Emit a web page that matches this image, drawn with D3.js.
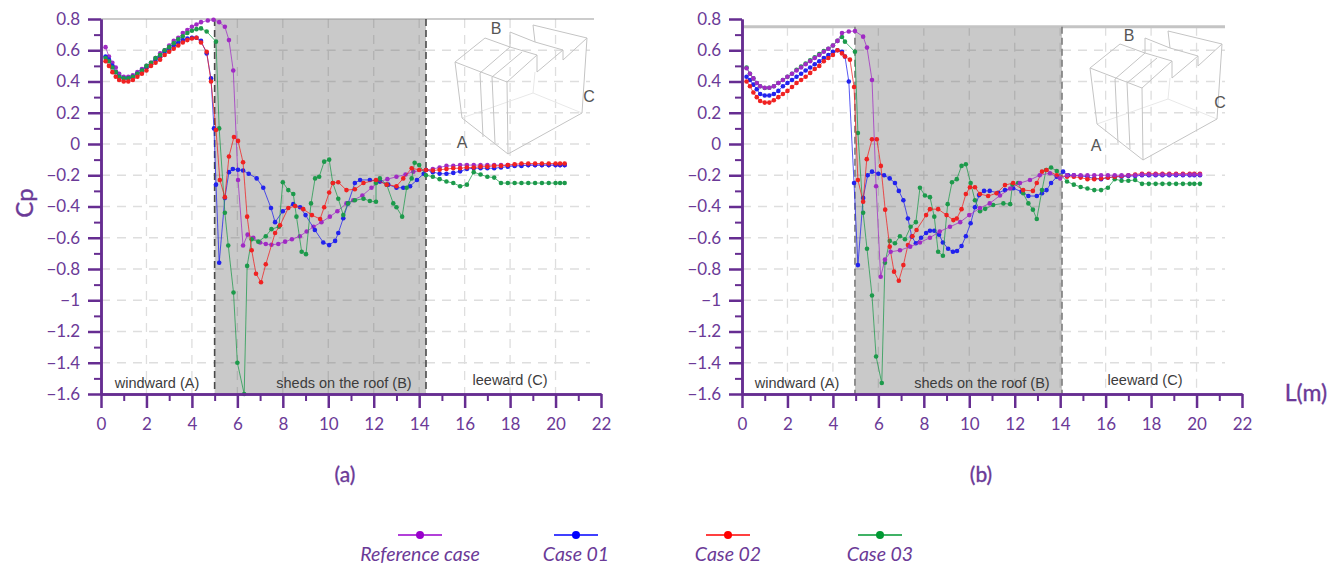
<!DOCTYPE html>
<html lang="en">
<head>
    <meta charset="UTF-8">
    <title>Cp along the section</title>
    <style>
        html, body { margin: 0; padding: 0; background: #fff; }
        svg { display: block; }
        .purple-text { fill: #6b3a97; font-family: Lato, sans-serif; }
        .heavy { stroke: #6b3a97; stroke-width: 0.35px; }
        .axis text { fill: #6b3a97; font: 17px Lato, sans-serif; }
        .axis path, .axis line { stroke: #662d91; stroke-width: 2.5px; }
        .axis.minor line { stroke-width: 2px; }
        .grid-w { stroke: #dedede; stroke-width: 1.3px; stroke-dasharray: 9 7; }
        .grid-g { stroke: #b2b2b2; stroke-width: 1.3px; stroke-dasharray: 9 7; }
        .zone { fill: #3c3c3c; font: 14.5px "Liberation Sans", sans-serif; }
        .box { fill: none; stroke: #c4c4c4; stroke-width: 1px; }
        .box.faint { stroke: #e8e8e8; }
        .abc { fill: #555; font: 16px "Liberation Sans", sans-serif; }
    </style>
</head>
<body>
    <div id="chart"></div>
    <script src="https://d3js.org/d3.v7.min.js"></script>
    <script>
        // tick labels
        const xTicks = [0, 2, 4, 6, 8, 10, 12, 14, 16, 18, 20, 22];
        const xMinor = [1, 3, 5, 7, 9, 11, 13, 15, 17, 19, 21];
        const yTicks = [0.8, 0.6, 0.4, 0.2, 0, -0.2, -0.4, -0.6, -0.8, -1, -1.2, -1.4, -1.6];
        const yMinor = [0.7, 0.5, 0.3, 0.1, -0.1, -0.3, -0.5, -0.7, -0.9, -1.1, -1.3, -1.5];
        const seriesNames = ["Reference case", "Case 01", "Case 02", "Case 03"];

        // windward side, shared L positions
        const lWind = [0.2, 0.35, 0.5, 0.65, 0.8, 1, 1.2, 1.4, 1.6, 1.8, 2, 2.2, 2.4, 2.6, 2.8, 3, 3.2, 3.4, 3.6, 3.8, 4, 4.2, 4.4];
        const refWindA = [.62, .56, .52, .49, .45, .43, .43, .44, .46, .48, .50, .52, .55, .58, .60, .63, .66, .68, .71, .73, .75, .765, .78];
        const c1WindA = [.56, .54, .50, .46, .43, .42, .42, .43, .45, .47, .49, .51, .54, .56, .59, .61, .63, .65, .665, .675, .68, .68, .66];
        const c2WindA = [.53, .50, .46, .43, .41, .40, .40, .41, .43, .45, .47, .50, .52, .54, .57, .59, .61, .63, .65, .665, .675, .68, .65];
        const c3WindA = [.55, .53, .49, .46, .43, .42, .42, .43, .45, .47, .50, .52, .55, .57, .60, .62, .645, .67, .69, .71, .725, .735, .74];
        const refWindB = [.485, .45, .42, .39, .37, .36, .36, .37, .39, .41, .43, .45, .47, .49, .51, .53, .55, .57, .59, .61, .63, .66, .71];
        const c1WindB = [.43, .41, .38, .35, .32, .31, .31, .32, .34, .37, .39, .41, .43, .45, .47, .49, .51, .53, .55, .57, .59, .60, .59];
        const c2WindB = [.40, .37, .33, .30, .275, .265, .265, .28, .30, .32, .34, .365, .39, .41, .43, .455, .48, .50, .53, .55, .57, .60, .58];
        const c3WindB = [.49, .45, .42, .39, .37, .358, .36, .37, .39, .41, .43, .45, .475, .495, .515, .535, .555, .575, .595, .61, .63, .66, .685];

        // roof, (a)
        const refRoofA = [[4.7,.79],[4.95,.795],[5.2,.78],[5.45,.75],[5.63,.665],[5.82,.47],[6.03,-.23],[6.25,-.65],[6.45,-.58],[6.7,-.6],[7,-.63],[7.25,-.64],[7.5,-.645],[7.8,-.64],[8.1,-.625],[8.4,-.61],[8.75,-.59],[9.05,-.56],[9.35,-.53],[9.7,-.5],[10.07,-.465],[10.4,-.43],[10.8,-.38],[11.1,-.36],[11.5,-.33],[11.9,-.28],[12.27,-.24],[12.6,-.225],[13,-.21],[13.4,-.195],[13.74,-.177],[14.3,-.166]];
        const c1RoofA = [[4.65,.58],[4.84,.42],[4.97,.1],[5.06,-.26],[5.2,-.76],[5.45,-.345],[5.63,-.18],[5.8,-.16],[6.03,-.165],[6.25,-.17],[6.5,-.19],[6.85,-.22],[7.14,-.28],[7.48,-.41],[7.66,-.5],[8,-.43],[8.46,-.385],[8.76,-.405],[9,-.455],[9.41,-.55],[9.78,-.63],[10.04,-.647],[10.3,-.62],[10.44,-.57],[10.66,-.475],[10.87,-.38],[11.17,-.25],[11.4,-.23],[11.83,-.23],[12.27,-.24],[12.64,-.26],[13,-.28],[13.3,-.28],[13.6,-.27],[13.9,-.23],[14.2,-.19],[14.3,-.166]];
        const c2RoofA = [[4.65,.59],[4.84,.40],[5.06,.09],[5.23,-.23],[5.45,-.34],[5.63,-.08],[5.85,.045],[6.03,.02],[6.25,-.117],[6.43,-.465],[6.63,-.68],[6.82,-.83],[7.04,-.885],[7.25,-.77],[7.66,-.57],[7.88,-.52],[8.24,-.41],[8.54,-.397],[8.9,-.417],[9.28,-.455],[9.64,-.48],[9.82,-.405],[10.04,-.31],[10.2,-.25],[10.44,-.245],[10.8,-.295],[11.17,-.29],[11.55,-.25],[12.1,-.23],[12.57,-.26],[13,-.27],[13.3,-.22],[13.67,-.155],[14,-.166],[14.3,-.166]];
        const c3RoofA = [[4.65,.72],[5.06,.655],[5.2,.10],[5.45,-.44],[5.6,-.65],[5.83,-.95],[6,-1.4],[6.3,-1.6],[6.43,-.78],[6.63,-.61],[6.92,-.625],[7.25,-.59],[7.5,-.545],[7.83,-.53],[8,-.245],[8.24,-.295],[8.46,-.32],[8.6,-.465],[8.83,-.69],[9.02,-.705],[9.24,-.38],[9.42,-.22],[9.6,-.21],[9.82,-.113],[10.04,-.10],[10.2,-.25],[10.44,-.35],[10.66,-.455],[10.87,-.38],[11.17,-.36],[11.55,-.35],[11.83,-.365],[12.1,-.37],[12.1,-.25],[12.27,-.22],[12.57,-.26],[12.86,-.38],[13,-.405],[13.25,-.465],[13.45,-.28],[13.67,-.22],[13.8,-.12],[14,-.135],[14.3,-.2]];

        // roof, (b)
        const refRoofB = [[4.7,.72],[4.97,.723],[5.33,.687],[5.5,.617],[5.72,.41],[5.9,-.27],[6.1,-.85],[6.29,-.74],[6.54,-.69],[6.95,-.68],[7.4,-.657],[7.83,-.63],[8.27,-.6],[8.7,-.56],[9.15,-.53],[9.6,-.5],[10,-.455],[10.47,-.41],[10.9,-.38],[11.35,-.33],[11.8,-.285],[12.23,-.25],[12.67,-.23],[13.1,-.2],[13.55,-.187],[14,-.22],[14.3,-.2]];
        const c1RoofB = [[4.53,.56],[4.7,.40],[4.93,-.25],[5.1,-.775],[5.33,-.345],[5.53,-.2],[5.72,-.177],[6,-.19],[6.25,-.2],[6.5,-.22],[6.73,-.25],[6.9,-.3],[7.1,-.36],[7.3,-.477],[7.47,-.593],[7.65,-.635],[7.88,-.6],[8.1,-.57],[8.27,-.555],[8.46,-.555],[8.67,-.58],[8.84,-.63],[9.07,-.67],[9.28,-.69],[9.46,-.685],[9.66,-.653],[9.85,-.59],[10.06,-.507],[10.25,-.405],[10.43,-.327],[10.65,-.3],[10.9,-.3],[11.27,-.313],[11.57,-.295],[11.93,-.283],[12.3,-.305],[12.6,-.333],[12.97,-.333],[13.2,-.315],[13.4,-.295],[13.6,-.25],[13.85,-.21],[14.13,-.177],[14.35,-.2]];
        const c2RoofB = [[4.53,.56],[4.75,.54],[4.93,.365],[5.1,-.23],[5.33,-.37],[5.49,-.097],[5.72,.03],[5.93,.03],[6.11,-.14],[6.3,-.42],[6.5,-.657],[6.69,-.817],[6.9,-.875],[7.1,-.775],[7.3,-.647],[7.5,-.59],[7.68,-.55],[8.1,-.455],[8.27,-.417],[8.63,-.417],[9,-.455],[9.3,-.487],[9.45,-.477],[9.66,-.417],[9.85,-.32],[10.03,-.277],[10.25,-.277],[10.47,-.32],[10.83,-.333],[11.2,-.315],[11.57,-.263],[11.93,-.25],[12.37,-.295],[12.8,-.3],[12.97,-.25],[13.2,-.177],[13.4,-.166],[13.85,-.2],[14.3,-.21]];
        const c3RoofB = [[4.53,.655],[4.97,.59],[5.1,.07],[5.33,-.44],[5.5,-.67],[5.72,-.97],[5.9,-1.36],[6.15,-1.53],[6.29,-.76],[6.5,-.62],[6.73,-.635],[6.95,-.59],[7.17,-.61],[7.42,-.53],[7.65,-.5],[7.83,-.28],[8.05,-.33],[8.27,-.34],[8.46,-.465],[8.63,-.69],[8.84,-.715],[9.05,-.385],[9.24,-.245],[9.45,-.225],[9.66,-.14],[9.85,-.13],[10.06,-.25],[10.25,-.36],[10.47,-.43],[10.7,-.415],[11.05,-.39],[11.5,-.38],[11.8,-.385],[11.9,-.26],[12.15,-.25],[12.37,-.315],[12.6,-.38],[12.8,-.42],[12.97,-.48],[13.2,-.295],[13.38,-.166],[13.6,-.15],[13.85,-.173],[14.3,-.24]];

        // leeward side
        const lLeeA = [14.6, 14.9, 15.2, 15.5, 15.8, 16.1, 16.4, 16.7, 17, 17.3, 17.6, 17.9, 18.2, 18.5, 18.8, 19.1, 19.4, 19.7, 20, 20.2, 20.4];
        const refLeeA = [-.16, -.15, -.14, -.14, -.135, -.135, -.135, -.135, -.135, -.135, -.135, -.135, -.135, -.135, -.135, -.135, -.135, -.135, -.135, -.135, -.135];
        const c1LeeA = [-.18, -.19, -.19, -.185, -.175, -.16, -.155, -.155, -.155, -.155, -.15, -.145, -.14, -.14, -.135, -.135, -.135, -.135, -.135, -.135, -.135];
        const c2LeeA = [-.17, -.165, -.16, -.155, -.155, -.15, -.15, -.145, -.145, -.14, -.14, -.135, -.13, -.125, -.125, -.125, -.125, -.125, -.125, -.125, -.125];
        const c3LeeA = [-.21, -.225, -.24, -.25, -.27, -.26, -.18, -.195, -.21, -.215, -.25, -.25, -.25, -.25, -.25, -.25, -.25, -.25, -.25, -.25, -.25];
        const lLeeB = [14.6, 14.9, 15.2, 15.5, 15.8, 16.1, 16.4, 16.7, 17, 17.3, 17.6, 17.9, 18.2, 18.5, 18.8, 19.1, 19.4, 19.7, 19.9, 20.15];
        const refLeeB = [-.2, -.2, -.2, -.2, -.2, -.2, -.2, -.2, -.2, -.2, -.195, -.195, -.195, -.195, -.195, -.195, -.195, -.195, -.195, -.195];
        const c1LeeB = [-.2, -.205, -.21, -.22, -.225, -.215, -.21, -.21, -.205, -.205, -.2, -.2, -.2, -.2, -.2, -.2, -.2, -.2, -.2, -.2];
        const c2LeeB = [-.21, -.215, -.225, -.225, -.22, -.215, -.21, -.205, -.2, -.195, -.19, -.19, -.19, -.19, -.19, -.19, -.19, -.19, -.19, -.19];
        const c3LeeB = [-.26, -.275, -.285, -.295, -.295, -.28, -.225, -.235, -.235, -.23, -.255, -.255, -.255, -.255, -.255, -.255, -.255, -.255, -.255, -.255];

        const join = (w, roof, lx, lee) => [...d3.zip(lWind, w), ...roof, ...d3.zip(lx, lee)];

        const colors = ["#a02cc4", "#2020ee", "#f02020", "#1f9a4c"];
        const legendColors = ["#9900cc", "#0000ff", "#ff0000", "#009933"];

        const panels = [
            {
                x0: 101, topCp: 0.8, shade: [5, 14.3], gridEnd: 590, capEnd: 594, capW: 1.2, capColor: "#999", edge: "#4a4a4a",
                zones: [["windward (A)", 157, 388], ["sheds on the roof (B)", 344, 388], ["leeward (C)", 510, 385]],
                abc: [["A", 462, 148], ["B", 496, 34], ["C", 589, 102]], boxAt: [420, 0], label: "(a)", labelX: 345,
                // draw order follows the overlaps in the picture
                series: [
                    [0, join(refWindA, refRoofA, lLeeA, refLeeA)],
                    [1, join(c1WindA, c1RoofA, lLeeA, c1LeeA)],
                    [3, join(c3WindA, c3RoofA, lLeeA, c3LeeA)],
                    [2, join(c2WindA, c2RoofA, lLeeA, c2LeeA)]
                ]
            },
            {
                x0: 742, topCp: 0.75, shade: [4.97, 14.08], gridEnd: 1225, capEnd: 1225, capW: 3, capColor: "#c4c4c4", edge: "#7c7c7c",
                zones: [["windward (A)", 797, 388], ["sheds on the roof (B)", 982, 388], ["leeward (C)", 1145, 385]],
                abc: [["A", 1096, 151], ["B", 1129, 41], ["C", 1220, 108]], boxAt: [1055, 6], label: "(b)", labelX: 981,
                series: [
                    [1, join(c1WindB, c1RoofB, lLeeB, c1LeeB)],
                    [3, join(c3WindB, c3RoofB, lLeeB, c3LeeB)],
                    [2, join(c2WindB, c2RoofB, lLeeB, c2LeeB)],
                    [0, join(refWindB, refRoofB, lLeeB, refLeeB)]
                ]
            }
        ];

        const svg = d3.select("#chart").append("svg").attr("width", 1342).attr("height", 564);

        // the source figure is a soft raster, so the marks get a light blur
        const defs = svg.append("defs");
        defs.append("filter").attr("id", "soft").append("feGaussianBlur").attr("stdDeviation", 0.45);

        const y = d3.scaleLinear().domain([0.8, -1.6]).range([19, 394]);
        const fmtY = d => d3.format("")(+d.toFixed(1)).replace("-", "\u2013");

        // roof sketch, pixel offsets from the panel corner
        const boxLines = [
            "M35,62L42,118L88,154L87,82Z", "M35,62L65,38L90,47L117,55", "M90,47L90,32L115,42L143,50", "M115,42L113,25L167,38",
            "M88,154L162,113L167,38L143,60L143,50L117,72L117,55L87,82",
            "M60,73L63,137", "M72,77L75,143", "M90,47L60,73", "M102,52L72,77"
        ];
        const boxFaint = ["M42,118L113,93L162,113", "M113,93L115,72"];

        panels.forEach(p => {
            const x = d3.scaleLinear().domain([0, 22]).range([p.x0, p.x0 + 500]);
            const g = svg.append("g");

            g.append("rect")
                .attr("x", x(p.shade[0])).attr("y", y(p.topCp))
                .attr("width", x(p.shade[1]) - x(p.shade[0])).attr("height", y(-1.6) - y(p.topCp))
                .attr("fill", "#c9c9c9");

            // grid, darker where it runs over the shaded band
            const pieces = [["grid-w", p.x0, x(p.shade[0])], ["grid-g", x(p.shade[0]), x(p.shade[1])], ["grid-w", x(p.shade[1]), p.gridEnd]];
            pieces.forEach(([cls, a, b]) => {
                g.selectAll(null).data(yTicks.slice(0, -1).filter(v => v < p.topCp)).enter().append("line")
                    .attr("class", cls).attr("x1", a).attr("x2", b).attr("y1", y).attr("y2", y);
                g.selectAll(null).data(xTicks.slice(1, -1).filter(v => x(v) > a && x(v) < b)).enter().append("line")
                    .attr("class", cls).attr("x1", x).attr("x2", x).attr("y1", y(p.topCp)).attr("y2", y(-1.6));
            });

            const soft = g.append("g").attr("filter", "url(#soft)");
            soft.append("line").attr("x1", p.x0).attr("x2", p.capEnd).attr("y1", y(p.topCp)).attr("y2", y(p.topCp))
                .attr("stroke", p.capColor).attr("stroke-width", p.capW);
            soft.selectAll(null).data(p.shade).enter().append("line")
                .attr("x1", x).attr("x2", x).attr("y1", y(p.topCp)).attr("y2", y(-1.6))
                .attr("stroke", p.edge).attr("stroke-width", 1.6).attr("stroke-dasharray", "7 4");

            // roof sketch
            const box = soft.append("g").attr("transform", `translate(${p.boxAt})`);
            box.selectAll(null).data(boxFaint).enter().append("path").attr("class", "box faint").attr("d", d => d);
            box.selectAll(null).data(boxLines).enter().append("path").attr("class", "box").attr("d", d => d);

            const line = d3.line().x(d => x(d[0])).y(d => y(d[1]));
            p.series.forEach(([i, pts]) => {
                const s = soft.append("g");
                s.append("path").attr("d", line(pts)).attr("fill", "none")
                    .attr("stroke", colors[i]).attr("stroke-width", 1).attr("stroke-opacity", 0.75);
                s.selectAll("circle").data(pts).enter().append("circle")
                    .attr("cx", d => x(d[0])).attr("cy", d => y(d[1])).attr("r", 2.3)
                    .attr("fill", colors[i]);
            });

            g.selectAll(null).data(p.zones).enter().append("text").attr("class", "zone")
                .attr("x", d => d[1]).attr("y", d => d[2]).attr("text-anchor", "middle").text(d => d[0]);
            g.selectAll(null).data(p.abc).enter().append("text").attr("class", "abc")
                .attr("x", d => d[1]).attr("y", d => d[2]).attr("text-anchor", "middle").text(d => d[0]);

            // axes: minor ticks first, then the labelled ones
            g.append("g").attr("class", "axis minor").attr("transform", `translate(${p.x0},0)`)
                .call(d3.axisLeft(y).tickValues(yMinor).tickSize(7).tickFormat("").tickSizeOuter(0));
            g.append("g").attr("class", "axis minor").attr("transform", `translate(0,${y(-1.6)})`)
                .call(d3.axisBottom(x).tickValues(xMinor).tickSize(7).tickFormat("").tickSizeOuter(0));
            g.append("g").attr("class", "axis").attr("transform", `translate(${p.x0},0)`)
                .call(d3.axisLeft(y).tickValues(yTicks).tickSize(13).tickPadding(8).tickFormat(fmtY).tickSizeOuter(0));
            g.append("g").attr("class", "axis").attr("transform", `translate(0,${y(-1.6)})`)
                .call(d3.axisBottom(x).tickValues(xTicks).tickSize(14).tickPadding(10).tickSizeOuter(0));

            g.append("text").attr("class", "purple-text heavy")
                .attr("x", p.labelX).attr("y", 482).attr("text-anchor", "middle")
                .attr("font-size", 21).text(p.label);
        });

        svg.append("text").attr("class", "purple-text heavy")
            .attr("transform", "translate(33,203) rotate(-90)").attr("text-anchor", "middle")
            .attr("font-size", 24).text("Cp");
        svg.append("text").attr("class", "purple-text heavy")
            .attr("x", 1306).attr("y", 401).attr("text-anchor", "middle")
            .attr("font-size", 23).text("L(m)");

        // legend
        const legendAt = { "Reference case": 420, "Case 01": 576, "Case 02": 728, "Case 03": 880 };
        const legend = svg.selectAll(".legend").data(seriesNames).enter().append("g")
            .attr("class", "legend")
            .attr("transform", d => `translate(${legendAt[d]},0)`);
        legend.append("line").attr("x1", -22).attr("x2", 22).attr("y1", 535).attr("y2", 535)
            .attr("stroke", (d, i) => legendColors[i]).attr("stroke-width", 1.5);
        legend.append("circle").attr("cy", 535).attr("r", 4).attr("fill", (d, i) => legendColors[i]);
        legend.append("text").attr("class", "purple-text").attr("y", 561).attr("text-anchor", "middle")
            .attr("font-size", 19.5).attr("font-style", "italic").text(d => d);
    </script>
</body>
</html>
